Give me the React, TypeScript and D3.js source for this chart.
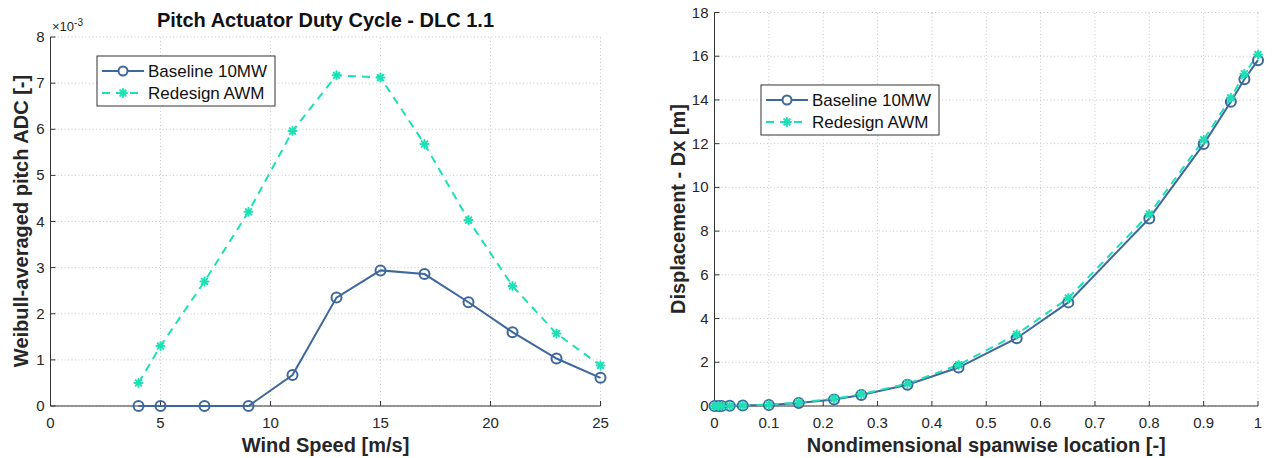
import React from "react";
import * as d3 from "d3";

const windSpeeds = [4, 5, 7, 9, 11, 13, 15, 17, 19, 21, 23, 25];
const adcBaseline = [0, 0, 0, 0, 0.67, 2.35, 2.94, 2.86, 2.25, 1.6, 1.03, 0.61];
const adcRedesign = [0.5, 1.3, 2.7, 4.21, 5.96, 7.17, 7.12, 5.68, 4.03, 2.6, 1.57, 0.88];

const spanStations = [0, 0.007, 0.013, 0.028, 0.052, 0.1, 0.155, 0.22, 0.27, 0.355, 0.449, 0.556, 0.651, 0.8, 0.9, 0.95, 0.975, 1.0];
const dxBaseline = [0, 0, 0, 0.01, 0.02, 0.05, 0.14, 0.3, 0.5, 0.97, 1.76, 3.1, 4.74, 8.58, 11.98, 13.92, 14.95, 15.82];
const dxRedesign = [0, 0, 0, 0.01, 0.02, 0.06, 0.16, 0.33, 0.54, 1.02, 1.88, 3.28, 4.94, 8.78, 12.18, 14.1, 15.2, 16.08];

const leftXTicks = [0, 5, 10, 15, 20, 25];
const leftYTicks = [0, 1, 2, 3, 4, 5, 6, 7, 8];
const rightXTicks = [0, 0.1, 0.2, 0.3, 0.4, 0.5, 0.6, 0.7, 0.8, 0.9, 1];
const rightYTicks = [0, 2, 4, 6, 8, 10, 12, 14, 16, 18];

const seriesNames = ["Baseline 10MW", "Redesign AWM"];

const BLUE = "#3e679b";
const TEAL = "#1ee0b6";
const FONT = "'Liberation Sans', Arial, Helvetica, sans-serif";

function Star({ x, y }: { x: number; y: number }) {
  const r = 4;
  const d = r * 0.7071;
  return (
    <g stroke={TEAL} strokeWidth={2} strokeLinecap="round">
      <line x1={x - r} y1={y} x2={x + r} y2={y} />
      <line x1={x} y1={y - r} x2={x} y2={y + r} />
      <line x1={x - d} y1={y - d} x2={x + d} y2={y + d} />
      <line x1={x - d} y1={y + d} x2={x + d} y2={y - d} />
      <circle cx={x} cy={y} r={2.2} fill={TEAL} stroke="none" />
    </g>
  );
}

function Circle({ x, y }: { x: number; y: number }) {
  return <circle cx={x} cy={y} r={5} fill="none" stroke={BLUE} strokeWidth={2} />;
}

function Axes({
  xs, ys, xTicks, yTicks,
}: {
  xs: d3.ScaleLinear<number, number>;
  ys: d3.ScaleLinear<number, number>;
  xTicks: number[];
  yTicks: number[];
}) {
  const [x0, x1] = xs.range();
  const [y0, y1] = ys.range();
  return (
    <g fontFamily={FONT} fontSize={15} fill="#262626">
      {xTicks.map((t) => (
        <line key={"gx" + t} x1={xs(t)} x2={xs(t)} y1={y0} y2={y1} stroke="#c8c8c8" strokeWidth={1} strokeDasharray="1,2.5" />
      ))}
      {yTicks.map((t) => (
        <line key={"gy" + t} x1={x0} x2={x1} y1={ys(t)} y2={ys(t)} stroke="#c8c8c8" strokeWidth={1} strokeDasharray="1,2.5" />
      ))}
      <line x1={x0} x2={x0} y1={y0} y2={y1} stroke="#333" strokeWidth={1} />
      <line x1={x0} x2={x1} y1={y0} y2={y0} stroke="#333" strokeWidth={1} />
      {xTicks.map((t) => (
        <g key={"tx" + t}>
          <line x1={xs(t)} x2={xs(t)} y1={y0} y2={y0 - 5} stroke="#333" />
          <text x={xs(t)} y={y0 + 22} textAnchor="middle">{String(t)}</text>
        </g>
      ))}
      {yTicks.map((t) => (
        <g key={"ty" + t}>
          <line x1={x0} x2={x0 + 5} y1={ys(t)} y2={ys(t)} stroke="#333" />
          <text x={x0 - 6} y={ys(t) + 5} textAnchor="end">{String(t)}</text>
        </g>
      ))}
    </g>
  );
}

function Legend({ x, y, w, h }: { x: number; y: number; w: number; h: number }) {
  const r1 = y + 15;
  const r2 = y + 37;
  const lx0 = x + 5;
  const lx1 = x + 47;
  const mx = (lx0 + lx1) / 2;
  return (
    <g fontFamily={FONT} fontSize={17} fill="#111">
      <rect x={x} y={y} width={w} height={h} fill="white" stroke="#333" strokeWidth={1} />
      <line x1={lx0} x2={lx1} y1={r1} y2={r1} stroke={BLUE} strokeWidth={2} />
      <circle cx={mx} cy={r1} r={4.5} fill="white" stroke={BLUE} strokeWidth={2} />
      <text x={x + 51} y={r1 + 6}>{seriesNames[0]}</text>
      <line x1={lx0} x2={lx1} y1={r2} y2={r2} stroke={TEAL} strokeWidth={2} strokeDasharray="8,6" />
      <Star x={mx} y={r2} />
      <text x={x + 51} y={r2 + 6}>{seriesNames[1]}</text>
    </g>
  );
}

export default function App() {
  const lx = d3.scaleLinear().domain([0, 25]).range([50.5, 600.5]);
  const ly = d3.scaleLinear().domain([0, 8]).range([406, 37]);
  const rx = d3.scaleLinear().domain([0, 1]).range([714.5, 1258]);
  const ry = d3.scaleLinear().domain([0, 18]).range([406, 12.5]);

  const lineL = d3.line<[number, number]>().x((d) => lx(d[0])).y((d) => ly(d[1]));
  const lineR = d3.line<[number, number]>().x((d) => rx(d[0])).y((d) => ry(d[1]));

  const lb = windSpeeds.map((w, i) => [w, adcBaseline[i]] as [number, number]);
  const lr = windSpeeds.map((w, i) => [w, adcRedesign[i]] as [number, number]);
  const rb = spanStations.map((s, i) => [s, dxBaseline[i]] as [number, number]);
  const rr = spanStations.map((s, i) => [s, dxRedesign[i]] as [number, number]);

  const lcx = (lx.range()[0] + lx.range()[1]) / 2;
  const rcx = (rx.range()[0] + rx.range()[1]) / 2;

  return (
    <svg width={1272} height={458} style={{ position: "absolute", left: 0, top: 0, background: "white" }}>
      <rect width={1272} height={458} fill="white" />
      <Axes xs={lx} ys={ly} xTicks={leftXTicks} yTicks={leftYTicks} />
      <Axes xs={rx} ys={ry} xTicks={rightXTicks} yTicks={rightYTicks} />

      <path d={lineL(lb) || ""} fill="none" stroke={BLUE} strokeWidth={2} />
      <path d={lineL(lr) || ""} fill="none" stroke={TEAL} strokeWidth={2} strokeDasharray="8,6" />
      {lb.map((d, i) => <Circle key={"lb" + i} x={lx(d[0])} y={ly(d[1])} />)}
      {lr.map((d, i) => <Star key={"lr" + i} x={lx(d[0])} y={ly(d[1])} />)}

      <path d={lineR(rb) || ""} fill="none" stroke={BLUE} strokeWidth={2} />
      <path d={lineR(rr) || ""} fill="none" stroke={TEAL} strokeWidth={2} strokeDasharray="8,6" />
      {rb.map((d, i) => <Circle key={"rb" + i} x={rx(d[0])} y={ry(d[1])} />)}
      {rr.map((d, i) => <Star key={"rr" + i} x={rx(d[0])} y={ry(d[1])} />)}

      <Legend x={97} y={56} w={178} h={50} />
      <Legend x={761} y={85} w={178} h={50} />

      <g fontFamily={FONT} fill="#262626">
        <text x={lcx} y={27} textAnchor="middle" fontSize={20} fontWeight="bold" fill="#111">Pitch Actuator Duty Cycle - DLC 1.1</text>
        <text x={52} y={31} fontSize={13}>×10<tspan dy={-5} fontSize={10}>-3</tspan></text>
        <text x={lcx} y={452} textAnchor="middle" fontSize={20} fontWeight="bold">Wind Speed [m/s]</text>
        <text transform="translate(28,221) rotate(-90)" textAnchor="middle" fontSize={20} fontWeight="bold">Weibull-averaged pitch ADC [-]</text>
        <text x={rcx} y={452} textAnchor="middle" fontSize={20} fontWeight="bold">Nondimensional spanwise location [-]</text>
        <text transform="translate(685,209) rotate(-90)" textAnchor="middle" fontSize={20} fontWeight="bold">Displacement - Dx [m]</text>
      </g>
    </svg>
  );
}
